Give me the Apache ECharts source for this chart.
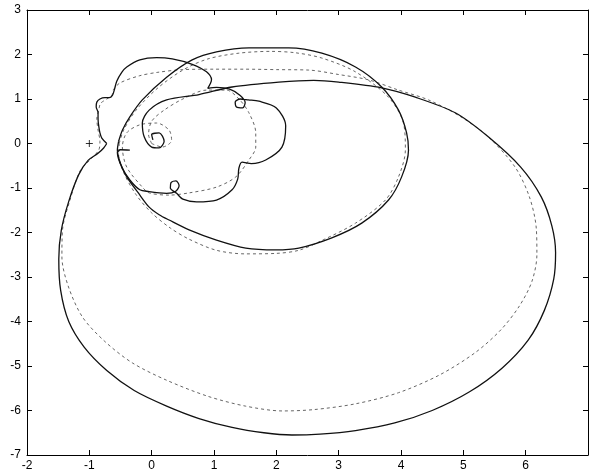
<!DOCTYPE html>
<html>
<head>
<meta charset="utf-8">
<script src="https://cdn.jsdelivr.net/npm/echarts@6/dist/echarts.min.js"></script>
<style>html,body{margin:0;padding:0;background:#fff}#c{width:589px;height:476px}</style>
</head>
<body>
<div id="c"></div>
<script>
// axis ticks
const xTicks = [-2, -1, 0, 1, 2, 3, 4, 5, 6, 7];
const yTicks = [-7, -6, -5, -4, -3, -2, -1, 0, 1, 2, 3];

// critical point
const critPoint = [[-1, 0]];

// solid curve: outer lobe (from centre spiral out and around)
const solidOuter = [
  [0.02,0.08],[0.0,0.2],[0.12,0.24],[0.2,0.05],[0.12,-0.1],[0.0,-0.08],[-0.12,0.15],[-0.15,0.46],
  [-0.04,0.75],[0.24,0.98],[0.76,1.1],[1.29,1.27],[2.04,1.38],[2.6,1.42],[3.0,1.38],[3.69,1.25],
  [4.23,1.04],[4.87,0.69],[5.4,0.15],[5.92,-0.53],[6.25,-1.2],[6.42,-1.85],[6.48,-2.45],[6.45,-3.05],
  [6.3,-3.75],[6.04,-4.42],[5.62,-5.05],[5.1,-5.58],[4.5,-6.0],[3.9,-6.28],[3.27,-6.45],[2.7,-6.53],
  [2.25,-6.55],[1.8,-6.5],[1.29,-6.38],[0.76,-6.18],[0.24,-5.9],[-0.28,-5.55],[-0.72,-5.1],[-1.08,-4.58],
  [-1.33,-4.0],[-1.46,-3.3],[-1.49,-2.6],[-1.45,-1.95],[-1.33,-1.3],[-1.17,-0.7],[-1.02,-0.38],
  [-0.86,-0.22],[-0.77,-0.1],[-0.72,0.0]
];
// solid curve: scalloped "flower"
const solidFlower = [
  [-0.72,0.0],[-0.8,0.12],[-0.83,0.24],[-0.85,0.4],[-0.86,0.55],[-0.86,0.7],[-0.89,0.82],[-0.88,0.93],
  [-0.83,1.0],[-0.75,1.03],[-0.68,1.03],[-0.63,1.08],[-0.6,1.2],[-0.56,1.4],[-0.48,1.6],[-0.4,1.72],
  [-0.19,1.88],[0.08,1.93],[0.33,1.9],[0.65,1.78],[0.88,1.61],[0.96,1.43],[0.9,1.24],[1.04,1.26],
  [1.25,1.22],[1.42,1.08],[1.5,0.92],[1.46,0.8],[1.36,0.82],[1.34,0.93],[1.42,1.0],[1.55,0.98],
  [1.72,0.95],[2.0,0.8],[2.15,0.4],[2.09,-0.08],[1.83,-0.37],[1.6,-0.45],[1.45,-0.42],[1.4,-0.55],
  [1.38,-0.8],[1.29,-1.04],[1.04,-1.27],[0.72,-1.31],[0.5,-1.25],[0.4,-1.12],[0.3,-1.0],[0.31,-0.88],
  [0.39,-0.84],[0.44,-0.95],[0.38,-1.08],[0.24,-1.12],[0.12,-1.11],[-0.04,-1.08],[-0.19,-1.04],
  [-0.35,-0.82],[-0.48,-0.53],[-0.55,-0.21],[-0.5,-0.14],[-0.35,-0.15]
];
// solid curve: inner lobe
const solidInner = [
  [-0.53,0.05],[-0.47,0.3],[-0.35,0.6],[-0.15,0.98],[0.24,1.49],[0.65,1.88],[1.04,2.06],[1.56,2.15],
  [2.2,2.15],[2.73,2.03],[3.27,1.72],[3.69,1.27],[3.96,0.75],[4.09,0.24],[4.12,-0.15],[4.01,-0.75],
  [3.8,-1.27],[3.37,-1.79],[2.89,-2.12],[2.36,-2.35],[1.99,-2.39],[1.51,-2.35],[1.04,-2.17],[0.6,-1.94],
  [0.28,-1.72],[0.12,-1.6],[-0.04,-1.43],[-0.22,-1.1],[-0.4,-0.75],[-0.5,-0.45],[-0.55,-0.15],[-0.53,0.05]
];

// dashed curve: outer lobe
const dashOuter = [
  [-0.62,1.2],[-0.51,1.36],[-0.2,1.52],[0.1,1.6],[0.5,1.66],[1.0,1.67],[1.5,1.67],[2.0,1.66],
  [2.52,1.65],[3.0,1.55],[3.48,1.43],[3.96,1.2],[4.44,0.98],[4.96,0.6],[5.4,0.15],[5.83,-0.53],
  [6.06,-1.2],[6.17,-1.9],[6.18,-2.5],[6.1,-3.1],[5.9,-3.65],[5.6,-4.19],[5.19,-4.7],[4.62,-5.2],
  [3.96,-5.6],[3.27,-5.85],[2.6,-5.98],[2.1,-6.01],[1.5,-5.9],[0.9,-5.68],[0.24,-5.32],[-0.31,-4.93],
  [-0.75,-4.45],[-1.11,-3.9],[-1.34,-3.2],[-1.44,-2.55],[-1.43,-1.94],[-1.31,-1.27],[-1.15,-0.62],
  [-0.99,-0.37],[-0.85,-0.15],[-0.83,0.05],[-0.86,0.3],[-0.88,0.55],[-0.85,0.75],
  [-0.82,0.9],[-0.72,1.0],[-0.64,1.08],[-0.62,1.2]
];
// dashed curve: inner lobe
const dashInner = [
  [-0.52,0.0],[-0.45,0.3],[-0.25,0.75],[0.1,1.25],[0.5,1.65],[0.9,1.9],[1.4,2.03],[1.9,2.07],
  [2.3,2.04],[2.73,1.92],[3.27,1.61],[3.8,1.04],[4.04,0.46],[4.07,-0.15],[3.96,-0.75],[3.75,-1.27],
  [3.27,-1.79],[2.73,-2.18],[2.36,-2.4],[1.99,-2.47],[1.5,-2.48],[1.04,-2.4],[0.6,-2.15],[0.3,-1.9],
  [0.0,-1.56],[-0.25,-1.15],[-0.45,-0.65],[-0.53,-0.25],[-0.52,0.0]
];
// dashed curve: central loop
const dashLoop = [
  [0.0,0.0],[0.17,-0.08],[0.32,0.07],[0.28,0.3],[0.08,0.46],[-0.19,0.42],[-0.4,0.24],[-0.47,-0.08],
  [-0.4,-0.53],[-0.15,-0.98],[-0.04,-1.11],[0.28,-1.16],[0.6,-1.11],[1.04,-0.98],[1.35,-0.75],
  [1.56,-0.37],[1.67,-0.08],[1.67,0.24],[1.56,0.69],[1.4,1.0],[1.2,1.2],[0.88,1.2],[0.5,1.0],
  [0.2,0.75],[0.0,0.5],[-0.05,0.2],[0.0,0.0]
];

const solidStyle = { color: '#111', width: 1.3 };
const dashStyle = { color: '#666', width: 1, type: [3, 3] };

function curve(data, style) {
  return {
    type: 'line', data: data, xAxisIndex: 0, yAxisIndex: 0,
    showSymbol: false, symbol: 'none', smooth: 0.3,
    lineStyle: style, silent: true, z: style === solidStyle ? 3 : 2
  };
}

const labelStyle = { color: '#000', fontSize: 12, fontFamily: 'Liberation Sans, Arial, sans-serif' };
const tickStyle = { show: true, inside: true, length: 5, lineStyle: { color: '#000', width: 1 } };
const lineStyleAx = { show: true, onZero: false, lineStyle: { color: '#000', width: 1 } };

const xMin = xTicks[0], xMax = xTicks[xTicks.length - 1];
const yMin = yTicks[0], yMax = yTicks[yTicks.length - 1];

const chart = echarts.init(document.getElementById('c'), null, { renderer: 'canvas' });
chart.setOption({
  animation: false,
  backgroundColor: '#fff',
  grid: { left: 27, right: 1, top: 10, bottom: 21, containLabel: false },
  xAxis: [
    { type: 'value', position: 'bottom', min: xMin, max: xMax, interval: 1,
      axisLine: lineStyleAx, axisTick: tickStyle, splitLine: { show: false },
      axisLabel: Object.assign({ margin: 5, showMaxLabel: false }, labelStyle) },
    { type: 'value', position: 'top', min: xMin, max: xMax, interval: 1,
      axisLine: lineStyleAx, axisTick: tickStyle, splitLine: { show: false },
      axisLabel: { show: false } }
  ],
  yAxis: [
    { type: 'value', position: 'left', min: yMin, max: yMax, interval: 1,
      axisLine: lineStyleAx, axisTick: tickStyle, splitLine: { show: false },
      axisLabel: Object.assign({ margin: 6 }, labelStyle) },
    { type: 'value', position: 'right', min: yMin, max: yMax, interval: 1,
      axisLine: lineStyleAx, axisTick: tickStyle, splitLine: { show: false },
      axisLabel: { show: false } }
  ],
  series: [
    curve(dashOuter, dashStyle),
    curve(dashInner, dashStyle),
    curve(dashLoop, dashStyle),
    curve(solidOuter, solidStyle),
    curve(solidFlower, solidStyle),
    curve(solidInner, solidStyle),
    { type: 'scatter', data: critPoint, symbol: 'path://M0,5L10,5M5,0L5,10', symbolSize: 7,
      itemStyle: { color: 'none', borderColor: '#000', borderWidth: 1 }, silent: true, z: 4 }
  ]
});
</script>
</body>
</html>
